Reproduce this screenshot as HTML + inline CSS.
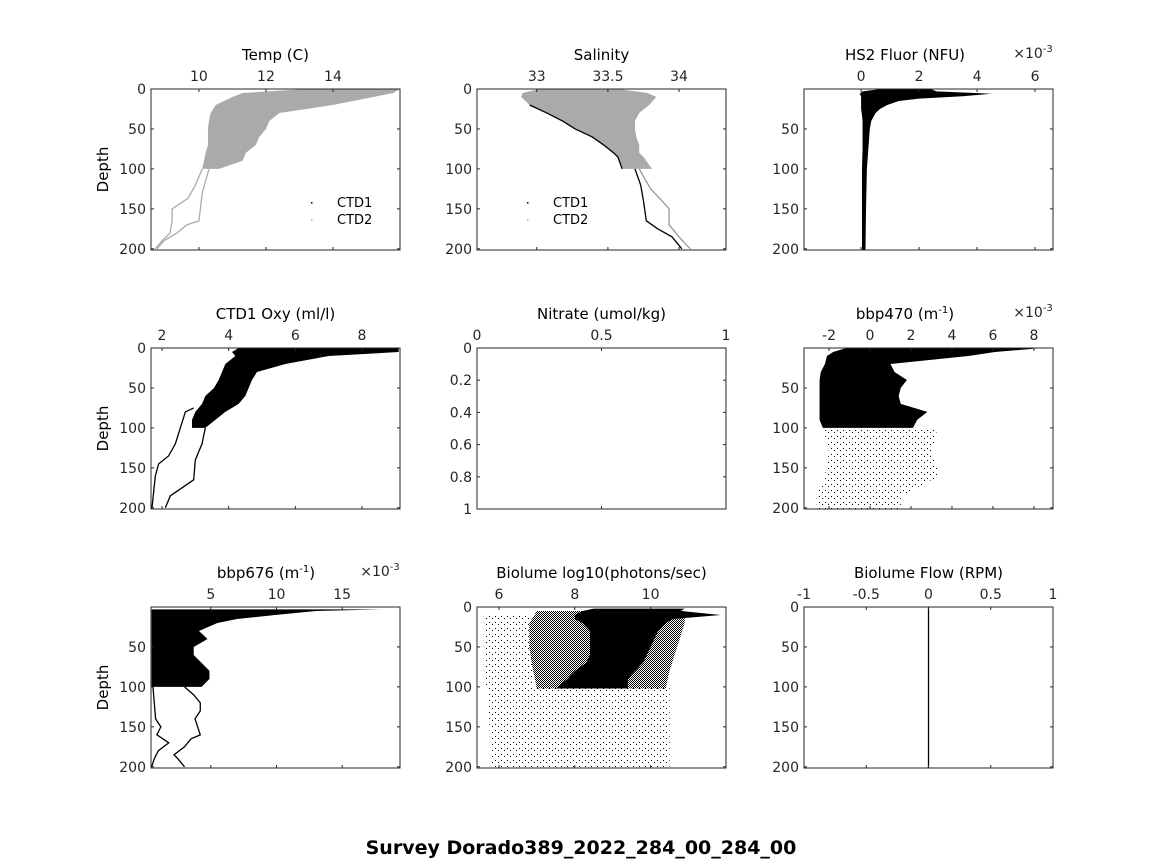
<!DOCTYPE html>
<html><head><meta charset="utf-8"><style>
html,body{margin:0;padding:0;background:#fff;}
svg{display:block;font-family:"DejaVu Sans","Liberation Sans",sans-serif;}
</style></head><body>
<svg id="fig" width="1164" height="864" viewBox="0 0 1164 864" xmlns="http://www.w3.org/2000/svg">
<defs>
<pattern id="med" width="2" height="2" patternUnits="userSpaceOnUse"><rect width="1" height="1" fill="#000"/><rect x="1" y="1" width="1" height="1" fill="#000"/></pattern>
<pattern id="sparse" width="4" height="4" patternUnits="userSpaceOnUse"><rect width="1" height="1" fill="#000"/><rect x="2" y="2" width="1" height="1" fill="#000"/></pattern>
<pattern id="vsparse" width="6" height="6" patternUnits="userSpaceOnUse"><rect width="1" height="1" fill="#000"/><rect x="3" y="4" width="1" height="1" fill="#000"/></pattern>
</defs>
<text x="581" y="854" text-anchor="middle" font-size="19" font-weight="bold" fill="#000">Survey Dorado389_2022_284_00_284_00</text>
</svg>
<script>
// ---------- DATA ----------
const tempDepth=[0,5,10,20,30,40,50,60,70,80,90,100];
const tempLo=[13.2,11.3,11.0,10.5,10.35,10.3,10.27,10.27,10.27,10.2,10.15,10.1];
const tempHi=[16,15.8,15.2,14.0,12.4,12.1,12.0,11.8,11.7,11.4,11.3,10.6];
const tempTraceADepth=[100,120,137,150,165,180,190,200];
const tempTraceA=[10.1,9.9,9.67,9.2,9.2,9.14,8.9,8.7];
const tempTraceBDepth=[100,130,165,170,180,190,200];
const tempTraceB=[10.3,10.1,10.0,9.64,9.35,8.95,8.75];

const salDepth=[0,5,10,20,30,40,50,60,70,80,85,100];
const salLo=[33.02,32.9,32.89,32.95,33.07,33.18,33.27,33.39,33.47,33.54,33.57,33.6];
const salHi=[33.57,33.78,33.84,33.79,33.72,33.69,33.69,33.70,33.72,33.72,33.75,33.81];
const salTraceADepth=[100,120,140,165,175,185,200];
const salTraceA=[33.69,33.73,33.75,33.77,33.85,33.95,34.02];
const salTraceBDepth=[100,125,140,150,170,185,195,200];
const salTraceB=[33.72,33.80,33.88,33.93,33.93,34.0,34.05,34.08];

const fluorDepth=[0,3,6,9,12,15,20,25,30,40,50,75,100,150,202];
const fluorLo=[0.7,0.05,-0.05,0,0,0,0,0,0.02,0.05,0.05,0.05,0.03,0.03,0.03];
const fluorHi=[2.4,2.6,4.5,3.5,2.0,1.3,0.9,0.65,0.5,0.35,0.3,0.25,0.2,0.17,0.15];

const oxyDepth=[0,5,10,20,30,40,50,60,70,80,90,100];
const oxyLo=[4.3,4.1,4.2,3.9,3.8,3.7,3.56,3.3,3.2,3.0,2.9,2.9];
const oxyHi=[9.1,9.1,7.0,5.7,4.85,4.7,4.6,4.5,4.3,3.9,3.6,3.3];
const oxyTraceADepth=[75,80,100,120,135,145,160,180,200];
const oxyTraceA=[2.95,2.7,2.55,2.4,2.2,1.9,1.8,1.75,1.7];
const oxyTraceBDepth=[100,120,140,165,175,185,200];
const oxyTraceB=[3.3,3.2,3.0,2.95,2.6,2.25,2.1];

const b470Depth=[0,5,10,20,30,40,50,60,70,80,90,100];
const b470Lo=[-1.15,-1.8,-2.1,-2.2,-2.4,-2.46,-2.46,-2.46,-2.46,-2.46,-2.46,-2.3];
const b470Hi=[8.4,6.1,4.8,1.0,1.2,1.8,1.5,1.4,1.5,2.8,2.3,2.1];
const b470SparseDepth=[100,130,160,185,202];
const b470SparseLo=[-2.3,-2.0,-2.2,-2.6,-2.6];
const b470SparseHi=[3.3,3.0,3.4,1.5,1.5];

const b676Depth=[3,5,10,15,20,30,40,50,60,70,80,90,100];
const b676Lo=[0.5,0.5,0.5,0.5,0.5,0.5,0.5,0.5,0.5,0.5,0.5,0.5,0.5];
const b676Hi=[18,13,9.9,7.0,5.5,4.1,4.75,3.7,3.7,4.3,4.9,4.9,4.3];
const b676TraceADepth=[100,140,150,160,170,180,190,200];
const b676TraceA=[0.6,0.8,1.2,0.9,1.8,1.0,0.7,0.5];
const b676TraceBDepth=[100,110,120,130,140,150,160,165,175,185,190,200];
const b676TraceB=[3.0,3.7,4.2,4.2,3.8,4.0,4.2,3.5,3.0,2.2,2.5,3.0];

const bioDepth=[2,5,10,15,20,30,40,50,60,70,80,90,102];
const bioLo=[8.5,8.2,8.0,8.0,8.2,8.4,8.4,8.4,8.4,8.3,8.0,7.8,7.5];
const bioHi=[10.9,10.8,11.85,10.6,10.4,10.2,10.1,10.0,9.9,9.8,9.6,9.4,9.4];
const bioMedDepth=[5,20,50,80,102];
const bioMedLo=[7.0,6.8,6.8,6.9,7.0];
const bioMedHi=[10.9,10.9,10.7,10.5,10.4];
const bioSparseDepth=[10,100,100,202];
const bioSparseLo=[5.6,5.6,5.7,5.8];
const bioSparseHi=[6.8,6.9,10.5,10.5];

const flowDepth=[0,203];
const flowVal=[0,0];

// ---------- HELPERS ----------
const NS='http://www.w3.org/2000/svg';
const fig=document.getElementById('fig');
function mk(tag,attrs,parent){const e=document.createElementNS(NS,tag);for(const k in attrs)e.setAttribute(k,attrs[k]);(parent||fig).appendChild(e);return e;}
function panel(p){
  const g=mk('g',{});
  
  
  const sx=v=>p.x0+(v-p.xd[0])/(p.xd[1]-p.xd[0])*(p.x1-p.x0);
  const sy=v=>p.y0+(v-p.yd[0])/(p.yd[1]-p.yd[0])*(p.y1-p.y0);
  const cid='c'+p.name;
  const cp=mk('clipPath',{id:cid},g);mk('rect',{x:p.x0,y:p.y0,width:p.x1-p.x0,height:p.y1-p.y0},cp);
  const plot=mk('g',{'clip-path':'url(#'+cid+')'},g);
  p.sx=sx;p.sy=sy;p.plot=plot;
  const fr=mk('rect',{x:p.x0,y:p.y0,width:p.x1-p.x0,height:p.y1-p.y0,fill:'none',stroke:'#262626','stroke-width':1},g);
  
  
  p.xt.forEach((t,i)=>{const x=sx(t);
    mk('line',{x1:x,x2:x,y1:p.y0,y2:p.y0+3,stroke:'#262626'},g);
    mk('line',{x1:x,x2:x,y1:p.y1,y2:p.y1-3,stroke:'#262626'},g);
    const tx=mk('text',{x:x,y:p.y0-8,'text-anchor':'middle','font-size':14,fill:'#262626'},g);tx.textContent=p.xl[i];
    
    });
  p.yt.forEach((t,i)=>{const y=sy(t);
    mk('line',{x1:p.x0,x2:p.x0+3,y1:y,y2:y,stroke:'#262626'},g);
    mk('line',{x1:p.x1,x2:p.x1-3,y1:y,y2:y,stroke:'#262626'},g);
    const tx=mk('text',{x:p.x0-5,y:y+5,'text-anchor':'end','font-size':14,fill:'#262626'},g);tx.textContent=p.yl[i];
    
    });
  const tt=mk('text',{x:p.tx||(p.x0+p.x1)/2,y:p.y0-29,'text-anchor':'middle','font-size':15,fill:'#000'},g);
  tt.innerHTML=p.title;
  
  
  if(p.exp){const ex=mk('text',{x:p.x1-20,y:p.y0-31,'text-anchor':'middle','font-size':14,fill:'#262626'},g);
    ex.innerHTML='×10<tspan dy="-6" font-size="10">-3</tspan>';
    
    }
  if(p.ylab){const yl=mk('text',{x:0,y:0,transform:'translate('+(p.x0-43)+','+((p.y0+p.y1)/2)+') rotate(-90)','text-anchor':'middle','font-size':15,fill:'#000'},g);
    yl.textContent='Depth';
    
    }
  return p;
}
function env(p,d,lo,hi,fill,name){
  const pts=[];d.forEach((v,i)=>pts.push(p.sx(lo[i])+','+p.sy(v)));
  for(let i=d.length-1;i>=0;i--)pts.push(p.sx(hi[i])+','+p.sy(d[i]));
  const e=mk('polygon',{points:pts.join(' '),fill:fill},p.plot);
  
  
}
function line(p,d,v,col,name){
  const e=mk('polyline',{points:d.map((y,i)=>p.sx(v[i])+','+p.sy(y)).join(' '),fill:'none',stroke:col,'stroke-width':1.3},p.plot);
  
  
}
function legend(p,x){
  [['CTD1','#000',207],['CTD2','#aaa',224]].forEach(l=>{
    const d=mk('rect',{x:x-26,y:l[2]-5,width:1.5,height:1.5,fill:l[1]});
    
    
    const t=mk('text',{x:x,y:l[2],'font-size':13,fill:'#000'});t.textContent=l[0];
    
    });
}
const C=[[151,400],[477,726],[804,1053]], R=[[89,250],[348,509],[607,768]];
const YD=[0,201.5], DT=[0,50,100,150,200], DTL=['0','50','100','150','200'];
const DT4=[50,100,150,200], DTL4=['50','100','150','200'];

let p=panel({name:'temp-panel',x0:C[0][0],x1:C[0][1],y0:R[0][0],y1:R[0][1],xd:[8.57,16],yd:YD,xt:[10,12,14],xl:['10','12','14'],yt:DT,yl:DTL,title:'Temp (C)',ylab:1});
env(p,tempDepth,tempLo,tempHi,'#aaa','temp-cloud');
line(p,tempTraceADepth,tempTraceA,'#aaa','temp-trace-a');
line(p,tempTraceBDepth,tempTraceB,'#aaa','temp-trace-b');
legend(p,337);
p=panel({name:'salinity-panel',x0:C[1][0],x1:C[1][1],y0:R[0][0],y1:R[0][1],xd:[32.58,34.33],yd:YD,xt:[33,33.5,34],xl:['33','33.5','34'],yt:DT,yl:DTL,title:'Salinity'});
env(p,salDepth,salLo,salHi,'#aaa','salinity-cloud');
line(p,salDepth.slice(3),salLo.slice(3),'#000','salinity-edge');
line(p,salTraceADepth,salTraceA,'#000','salinity-trace-a');
line(p,salTraceBDepth,salTraceB,'#999','salinity-trace-b');
legend(p,553);
p=panel({name:'fluor-panel',x0:C[2][0],x1:C[2][1],y0:R[0][0],y1:R[0][1],xd:[-1.97,6.62],yd:YD,xt:[0,2,4,6],xl:['0','2','4','6'],yt:DT4,yl:DTL4,title:'HS2 Fluor (NFU)',tx:905,exp:1});
env(p,fluorDepth,fluorLo,fluorHi,'#000','fluor-cloud');
p=panel({name:'oxygen-panel',x0:C[0][0],x1:C[0][1],y0:R[1][0],y1:R[1][1],xd:[1.67,9.14],yd:YD,xt:[2,4,6,8],xl:['2','4','6','8'],yt:DT,yl:DTL,title:'CTD1 Oxy (ml/l)',ylab:1});
env(p,oxyDepth,oxyLo,oxyHi,'#000','oxygen-cloud');
line(p,oxyTraceADepth,oxyTraceA,'#000','oxygen-trace-a');
line(p,oxyTraceBDepth,oxyTraceB,'#000','oxygen-trace-b');
p=panel({name:'nitrate-panel',x0:C[1][0],x1:C[1][1],y0:R[1][0],y1:R[1][1],xd:[0,1],yd:[0,1],xt:[0,0.5,1],xl:['0','0.5','1'],yt:[0,0.2,0.4,0.6,0.8,1],yl:['0','0.2','0.4','0.6','0.8','1'],title:'Nitrate (umol/kg)'});
p=panel({name:'bbp470-panel',x0:C[2][0],x1:C[2][1],y0:R[1][0],y1:R[1][1],xd:[-3.22,8.93],yd:YD,xt:[-2,0,2,4,6,8],xl:['-2','0','2','4','6','8'],yt:DT4,yl:DTL4,title:'bbp470 (m<tspan dy="-6" font-size="10">-1</tspan><tspan dy="6">)</tspan>',tx:905,exp:1});
env(p,b470SparseDepth,b470SparseLo,b470SparseHi,'url(#vsparse)','bbp470-sparse');
env(p,b470Depth,b470Lo,b470Hi,'#000','bbp470-cloud');
p=panel({name:'bbp676-panel',x0:C[0][0],x1:C[0][1],y0:R[2][0],y1:R[2][1],xd:[0.45,19.4],yd:YD,xt:[5,10,15],xl:['5','10','15'],yt:DT4,yl:DTL4,title:'bbp676 (m<tspan dy="-6" font-size="10">-1</tspan><tspan dy="6">)</tspan>',tx:266,exp:1,ylab:1});
env(p,b676Depth,b676Lo,b676Hi,'#000','bbp676-cloud');
line(p,b676TraceADepth,b676TraceA,'#000','bbp676-trace-a');
line(p,b676TraceBDepth,b676TraceB,'#000','bbp676-trace-b');
p=panel({name:'biolume-panel',x0:C[1][0],x1:C[1][1],y0:R[2][0],y1:R[2][1],xd:[5.42,11.99],yd:YD,xt:[6,8,10],xl:['6','8','10'],yt:DT,yl:DTL,title:'Biolume log10(photons/sec)'});
env(p,bioSparseDepth,bioSparseLo,bioSparseHi,'url(#vsparse)','biolume-sparse');
env(p,bioMedDepth,bioMedLo,bioMedHi,'url(#med)','biolume-medium');
env(p,bioDepth,bioLo,bioHi,'#000','biolume-cloud');
p=panel({name:'flow-panel',x0:C[2][0],x1:C[2][1],y0:R[2][0],y1:R[2][1],xd:[-1,1],yd:YD,xt:[-1,-0.5,0,0.5,1],xl:['-1','-0.5','0','0.5','1'],yt:DT,yl:DTL,title:'Biolume Flow (RPM)'});
line(p,flowDepth,flowVal,'#000','flow-line');
</script>
</body></html>
